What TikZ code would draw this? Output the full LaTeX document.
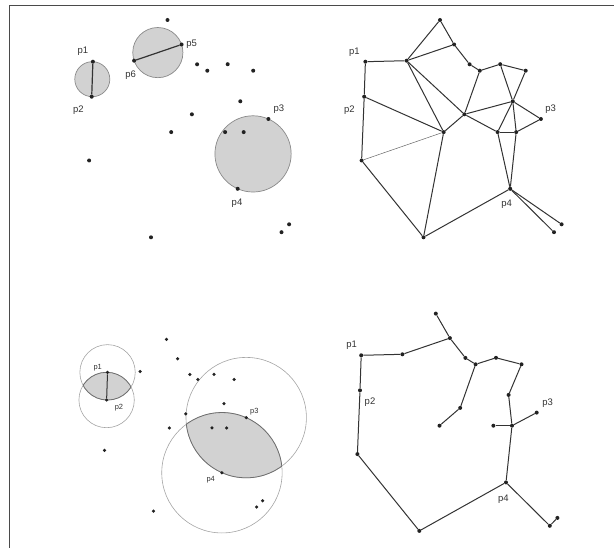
\documentclass[tikz,border=0pt]{standalone}
\usepackage{fontspec}
\setmainfont{Liberation Sans}
\usetikzlibrary{calc,backgrounds}
\definecolor{dotc}{HTML}{222222}
\definecolor{edgec}{HTML}{333333}
\definecolor{fillc}{HTML}{d2d2d2}
\definecolor{circc}{HTML}{8a8a8a}
\definecolor{lunec}{HTML}{a4a4a4}
\definecolor{lensc}{HTML}{6e6e6e}
\definecolor{labc}{HTML}{333333}
\definecolor{framec}{HTML}{4a4a4a}
\newcommand\placepts[5]{%
  \foreach \n/\px/\py in {A/167.2/20,B/181.3/44.5,C/92.6/61.7,D/133.8/60.7,E/196.8/64.3,F/207/70.7,G/227.4/64.2,H/252.9/70.7,I/91.4/96.7,J/240/101.3,K/191.6/114.3,L/268.1/119,M/170.9/132.1,N/224.8/132.1,O/243.4/132.1,P/88.8/160.5,Q/237.4/188.8,R/150.7/237.3,S/288.8/224.3,T/281.2/232.2}
  {\node[dot,minimum size=#5] (#1\n) at ({#2+#4*\px},{#3+#4*\py}) {};}%
}
\begin{document}
\begin{tikzpicture}[x=1pt,y=-1pt,
  dot/.style={circle,fill=dotc,inner sep=0pt,minimum size=4pt},
  edge/.style={draw=edgec,line width=1pt},
  thinedge/.style={draw=edgec!75,line width=0.5pt},
  diam/.style={draw=edgec,line width=1.2pt},
  gab/.style={draw=circc,fill=fillc,line width=0.7pt},
  lune/.style={draw=lunec,line width=0.6pt},
  lensedge/.style={draw=lensc,line width=0.8pt},
  lbl/.style={font=\fontsize{9.5}{11}\selectfont,text=labc,inner sep=0pt},
  slbl/.style={font=\fontsize{7.5}{9}\selectfont,text=labc,inner sep=0pt}]
\useasboundingbox (0,0) rectangle (614,548);
\draw[framec,line width=1.4pt] (9.5,548) -- (9.5,5.5) -- (614,5.5);

\placepts{tl}{0.3}{0}{1}{4pt}
\placepts{tr}{272.8}{0}{1}{4pt}
\placepts{bl}{34.4}{323.6}{0.79}{3.5pt}
\placepts{br}{268.6}{293.6}{1}{4pt}

% top-left: circles on diameters
\begin{scope}[on background layer]
\foreach \a/\b in {C/I,D/B,L/Q}{
  \path[gab] let \p1=($(tl\a)-(tl\b)$), \n1={veclen(\x1,\y1)/2} in
    ($(tl\a)!0.5!(tl\b)$) circle[radius=\n1];
}
\end{scope}
\draw[diam] (tlC) -- (tlI);
\draw[diam] (tlD) -- (tlB);

% top-right: graph
\foreach \a/\b in {A/D,A/B,B/D,B/E,E/F,F/G,G/H,C/D,C/I,I/P,I/M,D/M,D/K,F/K,K/M,K/N,K/J,G/J,H/J,J/N,J/O,J/L,N/O,O/L,N/Q,O/Q,P/R,M/R,R/Q,Q/S,Q/T}
  \draw[edge] (tr\a) -- (tr\b);
\draw[thinedge] (trP) -- (trM);

% bottom-left: lunes
\begin{scope}[on background layer]
  \draw[lune] (blC) circle[radius=27.7] (blI) circle[radius=27.7];
  \draw[lune] (blL) circle[radius=60.2] (blQ) circle[radius=60.2];
  \begin{scope}
    \clip (blC) circle[radius=27.7];
    \fill[fillc] (blI) circle[radius=27.7];
    \draw[lensedge] (blI) circle[radius=27.7];
  \end{scope}
  \begin{scope}
    \clip (blI) circle[radius=27.7];
    \draw[lensedge] (blC) circle[radius=27.7];
  \end{scope}
  \begin{scope}
    \clip (blL) circle[radius=60.2];
    \fill[fillc] (blQ) circle[radius=60.2];
    \draw[lensedge] (blQ) circle[radius=60.2];
  \end{scope}
  \begin{scope}
    \clip (blQ) circle[radius=60.2];
    \draw[lensedge] (blL) circle[radius=60.2];
  \end{scope}
\end{scope}
\draw[diam,line width=1pt] (blC) -- (blI);

% bottom-right: tree
\foreach \a/\b in {A/B,B/D,C/D,C/I,I/P,P/R,R/Q,Q/T,T/S,B/E,E/F,F/G,G/H,H/J,J/O,O/Q,N/O,O/L,F/K,K/M}
  \draw[edge] (br\a) -- (br\b);

% labels
\node[lbl] (tl1) at (83,51.7) {p1};
\node[lbl] (tl2) at (78.3,109.7) {p2};
\node[lbl] (tl5) at (191.7,44.3) {p5};
\node[lbl] (tl6) at (130.7,75) {p6};
\node[lbl] (tl3) at (279,109.3) {p3};
\node[lbl] (tl4) at (237,203.3) {p4};
\node[lbl] (tr1) at (354.3,52.3) {p1};
\node[lbl] (tr2) at (349.3,110) {p2};
\node[lbl] (tr3) at (550.7,109.3) {p3};
\node[lbl] (tr4) at (506.7,204) {p4};
\node[slbl] (bl1) at (97.7,367.7) {p1};
\node[slbl] (bl2) at (119,407.7) {p2};
\node[slbl] (bl3) at (254.3,412) {p3};
\node[slbl] (bl4) at (210.7,480) {p4};
\node[lbl] (br1) at (351.7,345.7) {p1};
\node[lbl] (br2) at (370,401.7) {p2};
\node[lbl] (br3) at (547.7,402.7) {p3};
\node[lbl] (br4) at (503.3,499.3) {p4};
\end{tikzpicture}
\end{document}
